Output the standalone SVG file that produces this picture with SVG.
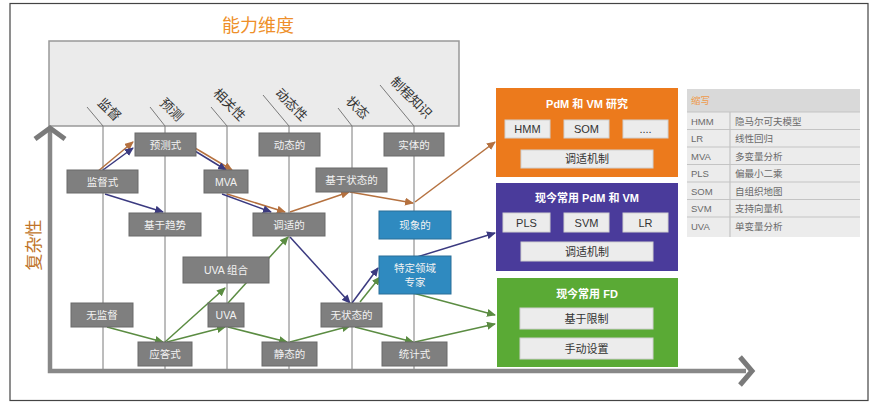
<svg xmlns="http://www.w3.org/2000/svg" width="876" height="404" viewBox="0 0 876 404">
<defs>
<style>
.cj{font-family:"Liberation Sans","Noto Sans CJK SC",sans-serif}
.nd{fill:#7f7f7f;stroke:#6a6a6a;stroke-width:1}
.bl{fill:#2f8ac0;stroke:#2a6f98;stroke-width:1}
.nt{font-family:"Liberation Sans","Noto Sans CJK SC",sans-serif;font-size:10.5px;fill:#f2f2f2;text-anchor:middle}
.col{stroke:#7a7a7a;stroke-width:1;fill:none}
.lab{font-family:"Liberation Sans","Noto Sans CJK SC",sans-serif;font-size:13px;fill:#333;text-anchor:middle}
.ax{stroke:#888;stroke-width:4.5;fill:none}
.chev{stroke:#7a7a7a;stroke-width:5;fill:none;stroke-linejoin:miter}
.o{stroke:#b5713f;stroke-width:1.5;fill:none;marker-end:url(#mo)}
.n{stroke:#3b3a80;stroke-width:1.5;fill:none;marker-end:url(#mn)}
.g{stroke:#5b8c42;stroke-width:1.5;fill:none;marker-end:url(#mg)}
.ib{fill:#ececec;stroke:#d0d0d0;stroke-width:1}
.it{font-family:"Liberation Sans","Noto Sans CJK SC",sans-serif;font-size:11px;fill:#333;text-anchor:middle}
.bt{font-family:"Liberation Sans","Noto Sans CJK SC",sans-serif;font-size:11px;font-weight:bold;fill:#fff;text-anchor:middle}
.lg{font-family:"Liberation Sans","Noto Sans CJK SC",sans-serif;font-size:9.5px;fill:#6a6a6a}
.rl{stroke:#c4c4c4;stroke-width:1.2}
</style>
<marker id="mo" markerUnits="userSpaceOnUse" markerWidth="9" markerHeight="8" refX="8" refY="4" orient="auto"><path d="M0,0 L9,4 L0,8 z" fill="#b5713f"/></marker>
<marker id="mn" markerUnits="userSpaceOnUse" markerWidth="9" markerHeight="8" refX="8" refY="4" orient="auto"><path d="M0,0 L9,4 L0,8 z" fill="#3b3a80"/></marker>
<marker id="mg" markerUnits="userSpaceOnUse" markerWidth="9" markerHeight="8" refX="8" refY="4" orient="auto"><path d="M0,0 L9,4 L0,8 z" fill="#5b8c42"/></marker>
</defs>
<rect x="0" y="0" width="876" height="404" fill="#fff"/>
<rect x="10" y="3.5" width="858" height="397" fill="none" stroke="#444" stroke-width="1.2"/>

<text x="258" y="32" class="cj" font-size="18" fill="#ee8f2a" text-anchor="middle">能力维度</text>
<text transform="translate(40,245) rotate(-90)" class="cj" font-size="17" fill="#c0742a" text-anchor="middle">复杂性</text>

<g id="header">
<rect x="49" y="41" width="410" height="85" fill="#ebebeb" stroke="#999" stroke-width="1.5"/>
</g>

<g id="columns">
<polyline class="col" points="87,107 103,126 103,372"/>
<polyline class="col" points="150,107 165,126 165,372"/>
<polyline class="col" points="211,107 227,126 227,372"/>
<polyline class="col" points="263,95 289,126 289,372"/>
<polyline class="col" points="338,108 352,126 352,372"/>
<polyline class="col" points="380,85 414,126 414,372"/>
<text class="lab" transform="translate(109,110) rotate(45)" dy="4">监督</text>
<text class="lab" transform="translate(171,110) rotate(45)" dy="4">预测</text>
<text class="lab" transform="translate(229,105) rotate(45)" dy="4">相关性</text>
<text class="lab" transform="translate(291,105) rotate(45)" dy="4">动态性</text>
<text class="lab" transform="translate(357,108) rotate(45)" dy="4">状态</text>
<text class="lab" transform="translate(411,98) rotate(45)" dy="4">制程知识</text>
</g>

<g id="axes">
<polyline class="ax" points="50,130 50,371 746,371"/>
<polyline class="chev" points="35,139 50,128 65,139"/>
<polyline class="chev" points="740,357 752,371 740,385"/>
</g>

<g id="connectors">
<line class="o" x1="97" y1="172" x2="133" y2="142"/>
<line class="o" x1="195" y1="148" x2="232" y2="170"/>
<line class="o" x1="227" y1="194" x2="285" y2="212"/>
<line class="o" x1="290" y1="212" x2="349" y2="192"/>
<line class="o" x1="350" y1="192" x2="413" y2="203"/>
<line class="o" x1="415" y1="202" x2="495" y2="142"/>
<line class="n" x1="103" y1="170" x2="133" y2="148"/>
<line class="n" x1="195" y1="151" x2="226" y2="170"/>
<line class="n" x1="105" y1="194" x2="163" y2="212"/>
<line class="n" x1="222" y1="194" x2="271" y2="212"/>
<line class="n" x1="290" y1="237" x2="350" y2="303"/>
<line class="n" x1="352" y1="303" x2="378" y2="268"/>
<line class="n" x1="417" y1="257" x2="495" y2="233"/>
<line class="g" x1="107" y1="327" x2="163" y2="342"/>
<line class="g" x1="165" y1="342" x2="225" y2="288"/>
<line class="g" x1="167" y1="342" x2="225" y2="327"/>
<line class="g" x1="228" y1="303" x2="288" y2="237"/>
<line class="g" x1="228" y1="327" x2="287" y2="342"/>
<line class="g" x1="290" y1="342" x2="350" y2="326"/>
<line class="g" x1="355" y1="327" x2="413" y2="342"/>
<line class="g" x1="415" y1="342" x2="495" y2="324"/>
<line class="g" x1="413" y1="293" x2="495" y2="315"/>
<line class="g" x1="360" y1="302" x2="380" y2="277"/>
</g>

<g id="n-yuceshi"><rect class="nd" x="135" y="133" width="61" height="23"/><text class="nt" x="165.5" y="148.5">预测式</text></g>
<g id="n-dongtaide"><rect class="nd" x="259" y="133" width="61" height="23"/><text class="nt" x="289.5" y="148.5">动态的</text></g>
<g id="n-shitide"><rect class="nd" x="384" y="133" width="60" height="23"/><text class="nt" x="414" y="148.5">实体的</text></g>
<g id="n-jiandushi"><rect class="nd" x="67" y="170" width="71" height="23"/><text class="nt" x="102.5" y="185.5">监督式</text></g>
<g id="n-mva"><rect class="nd" x="204" y="170" width="44" height="23"/><text class="nt" x="226" y="185.5">MVA</text></g>
<g id="n-jiyuzhuangtai"><rect class="nd" x="316" y="168" width="71" height="24"/><text class="nt" x="351.5" y="184">基于状态的</text></g>
<g id="n-jiyuqushi"><rect class="nd" x="129" y="213" width="72" height="23"/><text class="nt" x="165" y="228.5">基于趋势</text></g>
<g id="n-tiaoshide"><rect class="nd" x="253" y="213" width="72" height="23"/><text class="nt" x="289" y="228.5">调适的</text></g>
<g id="n-xianxiangde"><rect class="bl" x="379" y="211" width="72" height="28"/><text class="nt" x="415" y="229">现象的</text></g>
<g id="n-uvazuhe"><rect class="nd" x="183" y="257" width="86" height="26"/><text class="nt" x="226" y="274">UVA 组合</text></g>
<g id="n-zhuanjia"><rect class="bl" x="379" y="256" width="72" height="38"/><text class="nt" x="415" y="272">特定领域</text><text class="nt" x="415" y="286">专家</text></g>
<g id="n-wujiandu"><rect class="nd" x="71" y="303" width="62" height="24"/><text class="nt" x="102" y="319">无监督</text></g>
<g id="n-uva"><rect class="nd" x="208" y="303" width="36" height="24"/><text class="nt" x="226" y="319">UVA</text></g>
<g id="n-wuzhuangtai"><rect class="nd" x="321" y="303" width="61" height="24"/><text class="nt" x="351.5" y="319">无状态的</text></g>
<g id="n-yingdashi"><rect class="nd" x="138" y="342" width="54" height="24"/><text class="nt" x="165" y="358">应答式</text></g>
<g id="n-jingtaide"><rect class="nd" x="262" y="342" width="55" height="24"/><text class="nt" x="289.5" y="358">静态的</text></g>
<g id="n-tongjishi"><rect class="nd" x="382" y="342" width="65" height="24"/><text class="nt" x="414.5" y="358">统计式</text></g>

<g id="box-research">
<rect x="496" y="88" width="182" height="89" fill="#ec7a1c"/>
<text class="bt" x="587" y="108">PdM 和 VM 研究</text>
<rect class="ib" x="505" y="120" width="45" height="18"/><text class="it" x="527.5" y="133">HMM</text>
<rect class="ib" x="564" y="120" width="45" height="18"/><text class="it" x="586.5" y="133">SOM</text>
<rect class="ib" x="623" y="120" width="45" height="18"/><text class="it" x="645.5" y="133">....</text>
<rect class="ib" x="521" y="150" width="132" height="18"/><text class="it" x="587" y="163">调适机制</text>
</g>
<g id="box-pdm">
<rect x="496" y="183" width="182" height="88" fill="#4a3b9b"/>
<text class="bt" x="587" y="202">现今常用 PdM 和 VM</text>
<rect class="ib" x="503" y="213" width="47" height="19"/><text class="it" x="526.5" y="226.5">PLS</text>
<rect class="ib" x="564" y="213" width="45" height="19"/><text class="it" x="586.5" y="226.5">SVM</text>
<rect class="ib" x="623" y="213" width="45" height="19"/><text class="it" x="645.5" y="226.5">LR</text>
<rect class="ib" x="521" y="242" width="132" height="19"/><text class="it" x="587" y="255.5">调适机制</text>
</g>
<g id="box-fd">
<rect x="497" y="278" width="181" height="89" fill="#5aaa35"/>
<text class="bt" x="587" y="298">现今常用 FD</text>
<rect class="ib" x="520" y="308" width="133" height="21"/><text class="it" x="586.5" y="322.5">基于限制</text>
<rect class="ib" x="520" y="338" width="133" height="21"/><text class="it" x="586.5" y="352.5">手动设置</text>
</g>

<g id="legend">
<rect x="687" y="89" width="173" height="148" fill="#ececec"/>
<rect x="687" y="89" width="173" height="23" fill="#d9d9d9"/>
<text class="lg" x="691" y="104" style="fill:#ef9a4a">缩写</text>
<line class="rl" x1="687" y1="112" x2="860" y2="112"/>
<line class="rl" x1="687" y1="129.5" x2="860" y2="129.5"/>
<line class="rl" x1="687" y1="147" x2="860" y2="147"/>
<line class="rl" x1="687" y1="164.5" x2="860" y2="164.5"/>
<line class="rl" x1="687" y1="182" x2="860" y2="182"/>
<line class="rl" x1="687" y1="199.5" x2="860" y2="199.5"/>
<line class="rl" x1="687" y1="217" x2="860" y2="217"/>
<line class="rl" x1="730" y1="112" x2="730" y2="237"/>
<text class="lg" x="691" y="124.5">HMM</text><text class="lg" x="735" y="124.5">隐马尔可夫模型</text>
<text class="lg" x="691" y="142">LR</text><text class="lg" x="735" y="142">线性回归</text>
<text class="lg" x="691" y="159.5">MVA</text><text class="lg" x="735" y="159.5">多变量分析</text>
<text class="lg" x="691" y="177">PLS</text><text class="lg" x="735" y="177">偏最小二乘</text>
<text class="lg" x="691" y="194.5">SOM</text><text class="lg" x="735" y="194.5">自组织地图</text>
<text class="lg" x="691" y="212">SVM</text><text class="lg" x="735" y="212">支持向量机</text>
<text class="lg" x="691" y="229.5">UVA</text><text class="lg" x="735" y="229.5">单变量分析</text>
</g>
</svg>
